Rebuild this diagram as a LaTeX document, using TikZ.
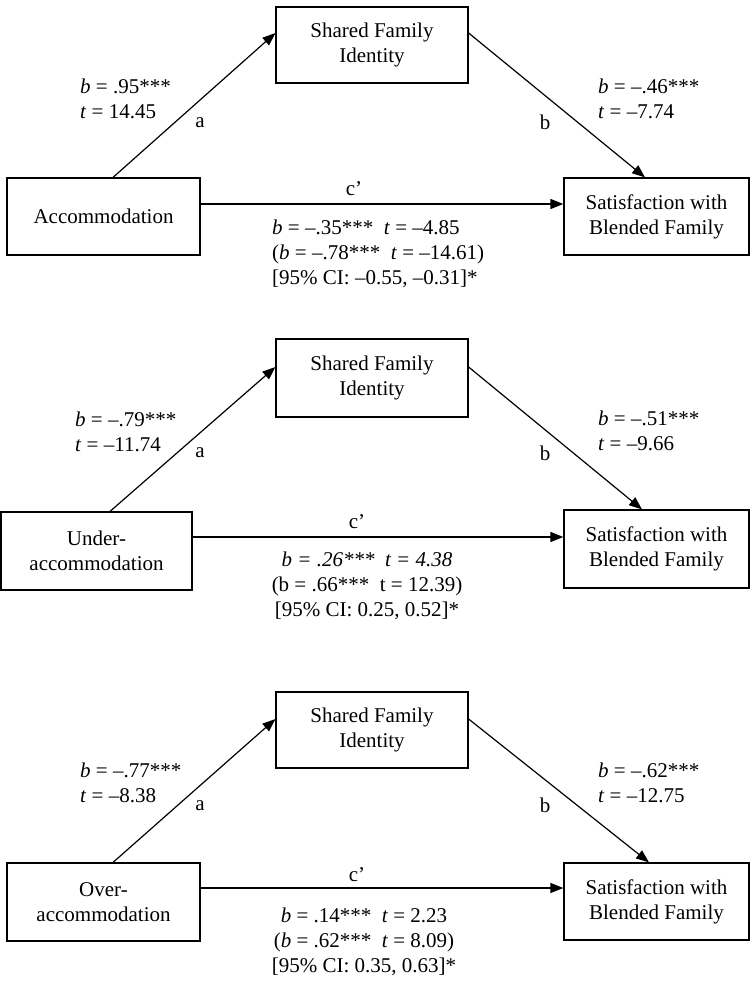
\documentclass[tikz,border=0pt]{standalone}
\usepackage{fontspec}
\setmainfont{Liberation Serif}
\usetikzlibrary{arrows.meta}
\begin{document}
\begin{tikzpicture}[x=1pt,y=-1pt,
  every node/.style={font=\fontsize{21}{25}\selectfont, inner sep=0pt},
  vbox/.style={draw, line width=1.2pt, align=center, minimum width=#1},
  lbl/.style={anchor=west, align=left},
  blk/.style={align=center},
  arr/.style={line width=1.2pt, -{Triangle[length=13pt,width=10pt]}}
]
\useasboundingbox (0,0) rectangle (750,981);

% ---------- Panel 1 ----------
\node[vbox=192, minimum height=76] (f1) at (372,45) {Shared Family\\Identity};
\node[vbox=193, minimum height=77] (x1) at (103.5,216.5) {Accommodation};
\node[vbox=185, minimum height=77] (s1) at (656.5,216.5) {Satisfaction with\\Blended Family};
\coordinate (a1s) at (113,0); \coordinate (a1e) at (0,33);
\coordinate (b1e) at (645,0); \coordinate (c1) at (0,204);
\draw[arr] (x1.north -| a1s) -- (f1.west |- a1e);
\draw[arr] (f1.east |- a1e) -- (s1.north -| b1e);
\draw[arr] (x1.east |- c1) -- (s1.west |- c1);
\node[lbl] (l1) at (80,98.5) {\textit{b} = .95***\\\textit{t} = 14.45};
\node[lbl] (r1) at (598,98.5) {\textit{b} = –.46***\\\textit{t} = –7.74};
\node (pa1) at (200,123) {a};
\node (pb1) at (545,122) {b};
\node (pc1) at (354,189) {c’};
\node[lbl] (k1) at (272,254) {\textit{b} = –.35***\enspace\textit{t} = –4.85\\(\textit{b} = –.78***\enspace\textit{t} = –14.61)\\{[}95\% CI: –0.55, –0.31]*};

% ---------- Panel 2 ----------
\node[vbox=192, minimum height=78] (f2) at (372,378) {Shared Family\\Identity};
\node[vbox=191, minimum height=78] (x2) at (96.5,551) {Under-\\accommodation};
\node[vbox=185, minimum height=78] (s2) at (656.5,549) {Satisfaction with\\Blended Family};
\coordinate (a2s) at (110,0); \coordinate (a2e) at (0,367);
\coordinate (b2e) at (642,0); \coordinate (c2) at (0,537);
\draw[arr] (x2.north -| a2s) -- (f2.west |- a2e);
\draw[arr] (f2.east |- a2e) -- (s2.north -| b2e);
\draw[arr] (x2.east |- c2) -- (s2.west |- c2);
\node[lbl] (l2) at (75,432) {\textit{b} = –.79***\\\textit{t} = –11.74};
\node[lbl] (r2) at (598,430.5) {\textit{b} = –.51***\\\textit{t} = –9.66};
\node (pa2) at (200,453) {a};
\node (pb2) at (545,453) {b};
\node (pc2) at (357,522) {c’};
\node[blk] (k2) at (367,585.5) {\textit{b = .26***\enspace t = 4.38}\\(b = .66***\enspace t = 12.39)\\{[}95\% CI: 0.25, 0.52]*};

% ---------- Panel 3 ----------
\node[vbox=192, minimum height=76] (f3) at (372,730) {Shared Family\\Identity};
\node[vbox=193, minimum height=78] (x3) at (103.5,902) {Over-\\accommodation};
\node[vbox=185, minimum height=77] (s3) at (656.5,901.5) {Satisfaction with\\Blended Family};
\coordinate (a3s) at (113,0); \coordinate (a3e) at (0,719);
\coordinate (b3e) at (649,0); \coordinate (c3) at (0,888);
\draw[arr] (x3.north -| a3s) -- (f3.west |- a3e);
\draw[arr] (f3.east |- a3e) -- (s3.north -| b3e);
\draw[arr] (x3.east |- c3) -- (s3.west |- c3);
\node[lbl] (l3) at (80,782.5) {\textit{b} = –.77***\\\textit{t} = –8.38};
\node[lbl] (r3) at (598,782.5) {\textit{b} = –.62***\\\textit{t} = –12.75};
\node (pa3) at (200,806) {a};
\node (pb3) at (545,805) {b};
\node (pc3) at (357,875) {c’};
\node[blk] (k3) at (364,941.5) {\textit{b} = .14***\enspace\textit{t} = 2.23\\(\textit{b} = .62***\enspace\textit{t} = 8.09)\\{[}95\% CI: 0.35, 0.63]*};
\end{tikzpicture}
\end{document}
